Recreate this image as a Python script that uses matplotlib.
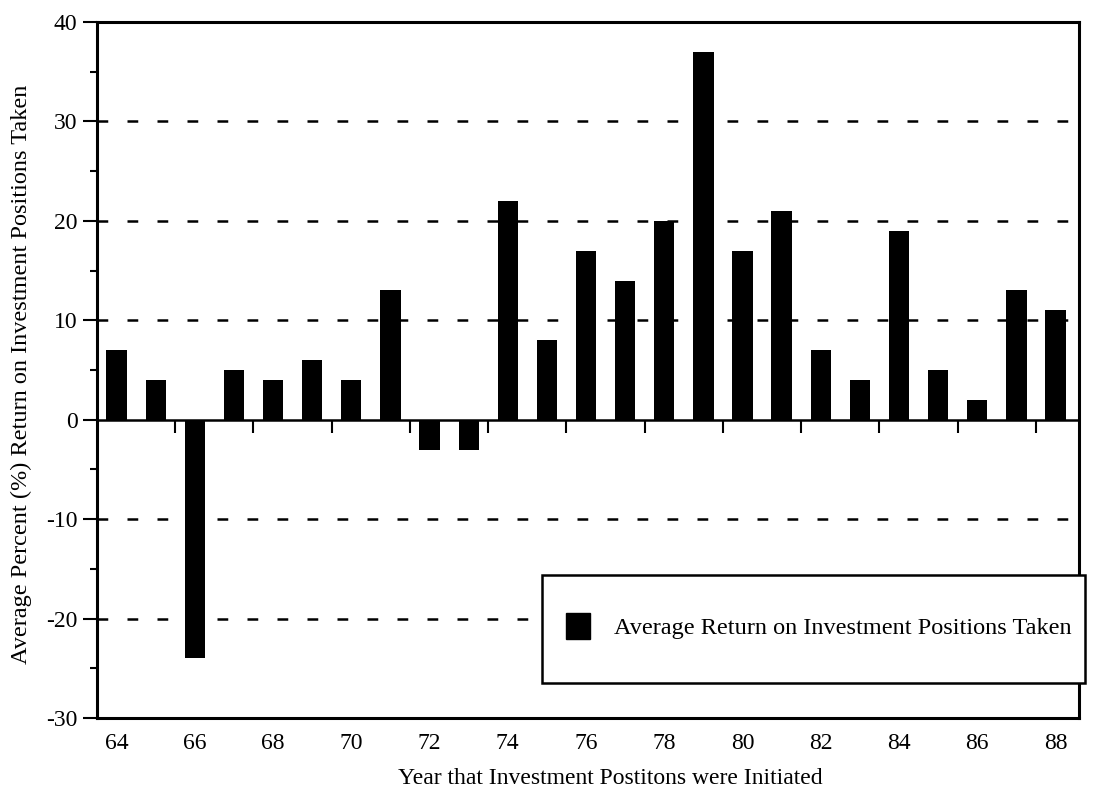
import matplotlib
matplotlib.use("Agg")
import matplotlib.pyplot as plt
from matplotlib.patches import Rectangle, Patch
import numpy as np

years = [64, 65, 66, 67, 68, 69, 70, 71, 72, 73, 74, 75, 76, 77, 78, 79, 80, 81, 82, 83, 84, 85, 86, 87, 88]
returns = [7, 4, -24, 5, 4, 6, 4, 13, -3, -3, 22, 8, 17, 14, 20, 37, 17, 21, 7, 4, 19, 5, 2, 13, 11]
xtick_years = [64, 66, 68, 70, 72, 74, 76, 78, 80, 82, 84, 86, 88]
yticks = [-30, -20, -10, 0, 10, 20, 30, 40]
grid_levels = [-20, -10, 10, 20, 30]
legend_label = "Average Return on Investment Positions Taken"
xlabel = "Year that Investment Postitons were Initiated"
ylabel = "Average Percent (%) Return on Investment Positions Taken"

plt.rcParams['font.family'] = ['Liberation Serif', 'DejaVu Serif']

fig = plt.figure(figsize=(11.03, 7.97), dpi=100)
ax = fig.add_axes([97/1103, 1-718/797, (1079-97)/1103, (718-22)/797])

ax.set_xlim(63.5, 88.6)
ax.set_ylim(-30, 40)

for g in grid_levels:
    ax.axhline(g, color='black', lw=1.8, dashes=(4.3, 7.7), zorder=1)

ax.bar(years, returns, width=0.52, color='black', zorder=3)
ax.axhline(0, color='black', lw=1.8, zorder=4)

# ticks on the zero line between year pairs
tick_pos = np.arange(years[0] + 1.5, years[-1], 2)
ax.vlines(tick_pos, -1.3, 0, color='black', lw=1.5, zorder=4)

ax.set_xticks(xtick_years)
ax.set_xticklabels([str(y) for y in xtick_years], fontsize=17)
ax.tick_params(axis='x', length=0, pad=11)

ax.set_yticks(yticks)
ax.set_yticklabels([str(v) for v in yticks], fontsize=17)
ax.set_yticks(np.arange(-25, 40, 10), minor=True)
ax.tick_params(axis='y', which='major', length=10, width=1.5, pad=4)
ax.tick_params(axis='y', which='minor', length=5, width=1.5)

for s in ax.spines.values():
    s.set_linewidth(2.2)

ax.set_xlabel(xlabel, fontsize=17)
ax.xaxis.set_label_coords((610-97)/982, -(778-718)/696, transform=ax.transAxes)
ax.xaxis.label.set_va('center')
ax.set_ylabel(ylabel, fontsize=17.5)
ax.yaxis.set_label_coords(-(97-21)/982, (718-374)/696, transform=ax.transAxes)
ax.yaxis.label.set_va('center')

# legend box
fig.patches.append(Rectangle((542/1103, 1-683/797), (1085-542)/1103, (683-575)/797,
                             transform=fig.transFigure, facecolor='white',
                             edgecolor='black', lw=1.8, zorder=10))
leg = fig.legend(handles=[Patch(facecolor='black', edgecolor='black', label=legend_label)],
                 loc='center left', bbox_to_anchor=(544/1103, 1-626/797), frameon=False,
                 fontsize=17.5, handlelength=1.0, handleheight=1.3, handletextpad=1.0)
leg.set_zorder(20)

fig.savefig("out.png", dpi=100)
